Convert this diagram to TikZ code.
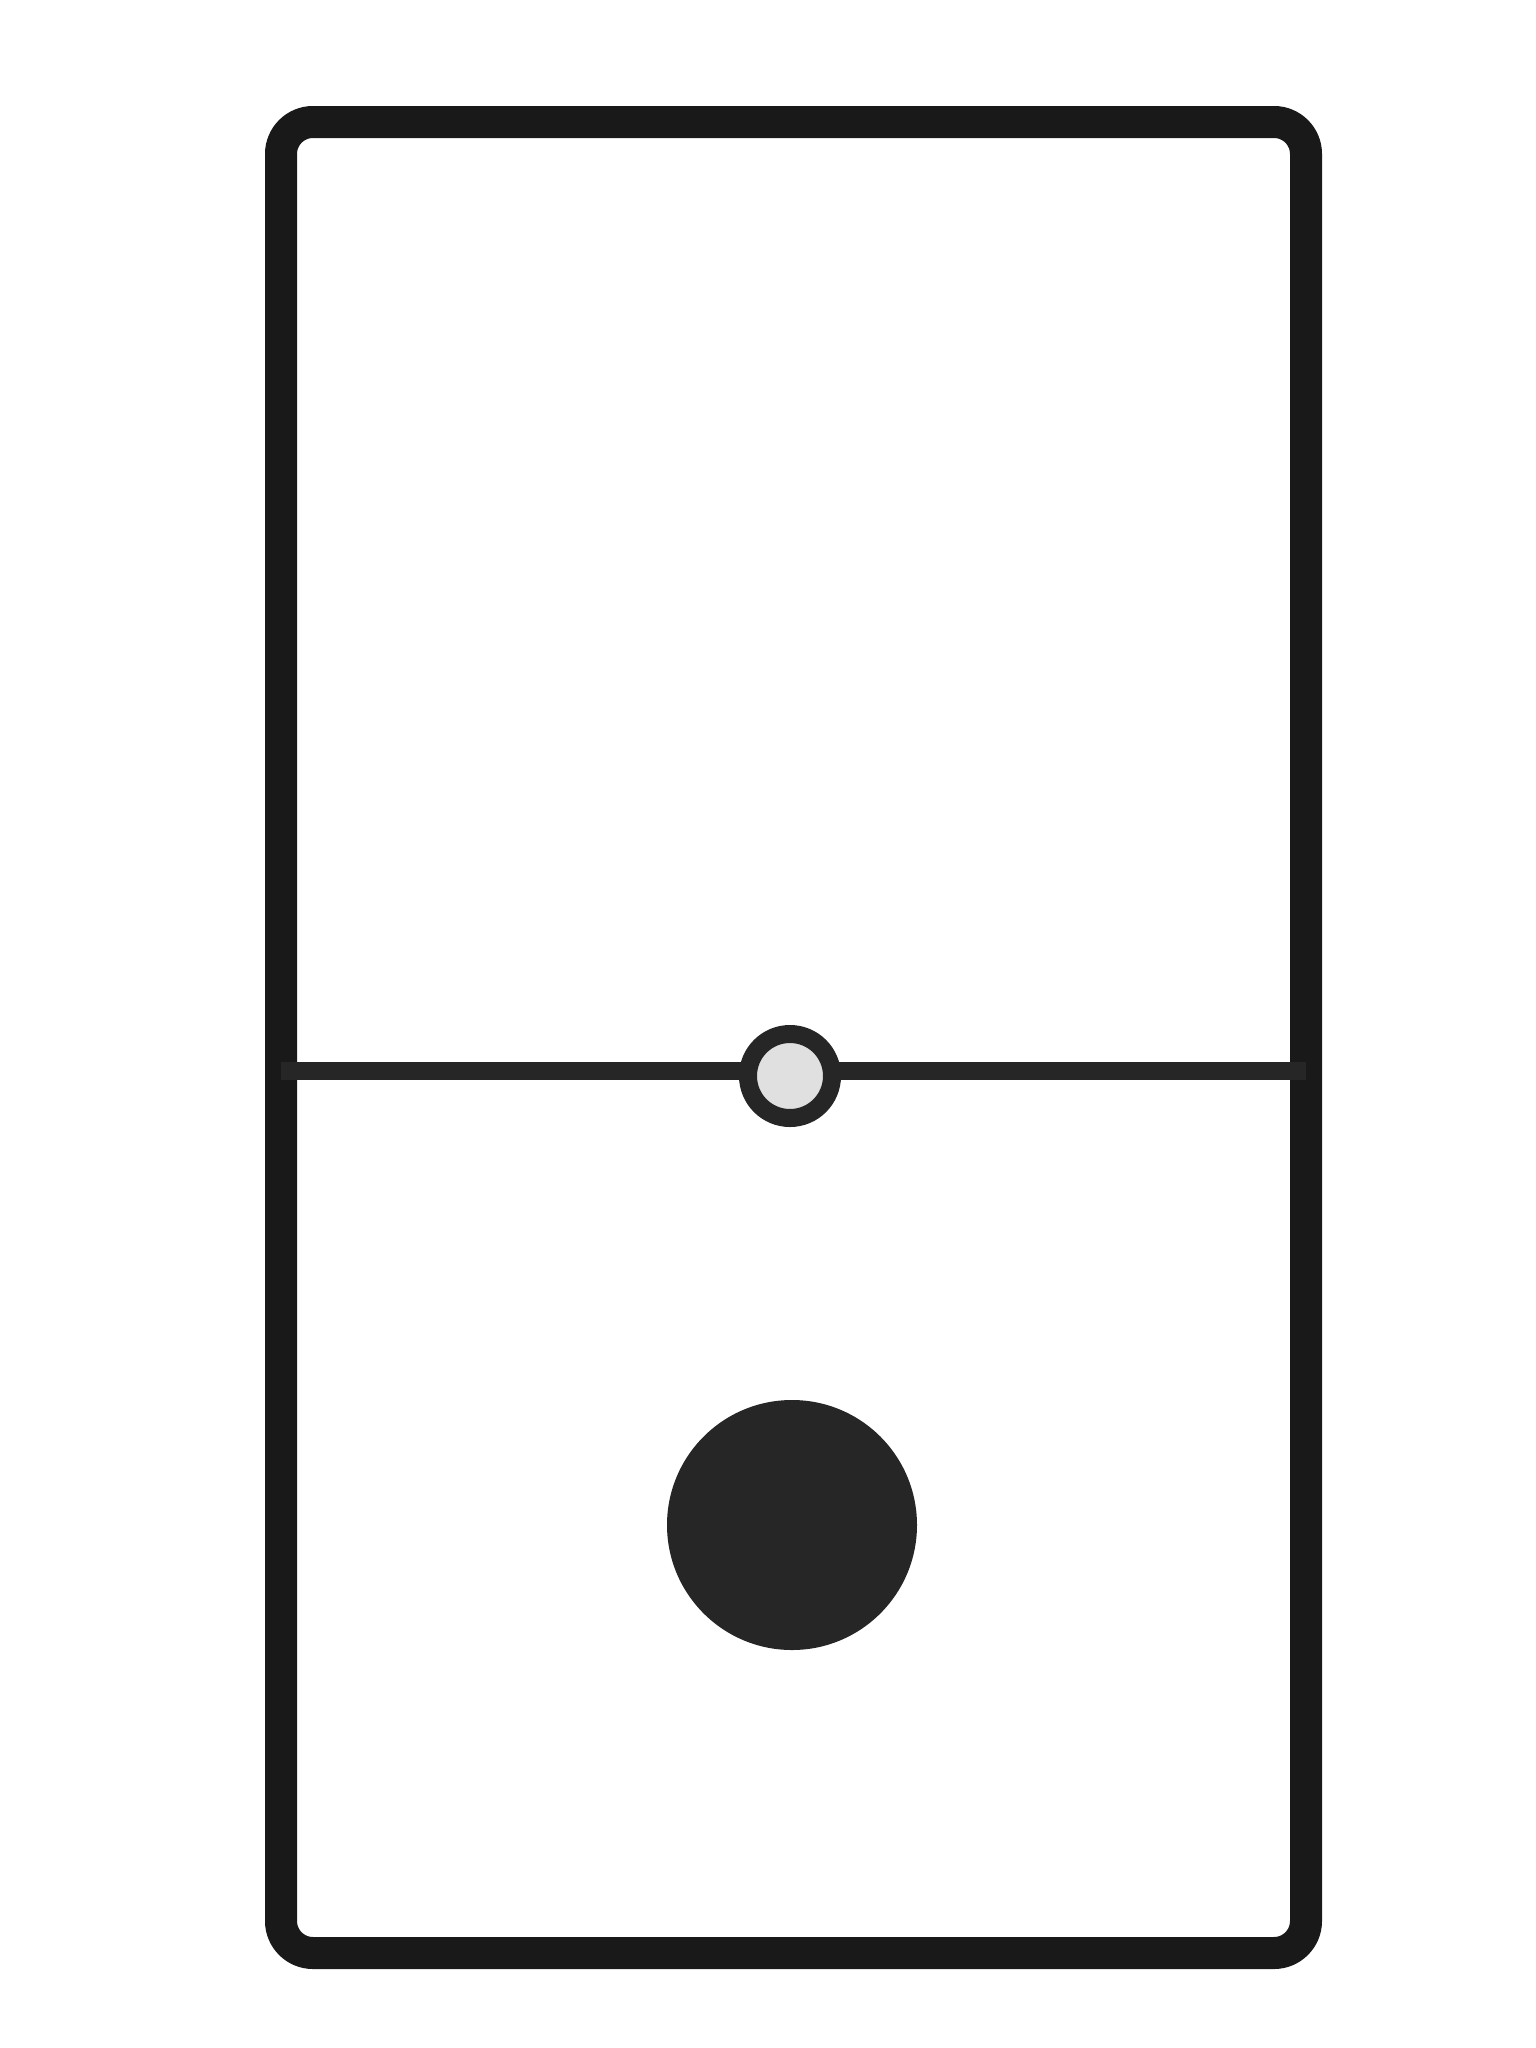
\documentclass[tikz,border=0pt]{standalone}
\begin{document}
\begin{tikzpicture}[x=1pt,y=-1pt,
  edge/.style={draw=black!90,line width=32pt,rounded corners=32pt},
  topedge/.style={draw=black!90,line width=20pt},
  divider/.style={draw=black!85,line width=18pt},
  spinner/.style={circle,draw=black!85,line width=18pt,fill=black!12,minimum size=84pt,inner sep=0pt},
  pip/.style={circle,fill=black!85,minimum size=250pt,inner sep=0pt}]
\useasboundingbox (0,0) rectangle (1536,2048);
\fill[white] (0,0) rectangle (1536,2048);
\draw[edge] (281,122) rectangle (1306,1953);
\coordinate (tl) at (300,128);
\coordinate (tr) at (1290,128);
\draw[topedge] (tl) -- (tr);
\coordinate (dl) at (281,1071);
\coordinate (dr) at (1306,1071);
\draw[divider] (dl) -- (dr);
\node[spinner] (sp) at (790,1076) {};
\node[pip] (p1) at (792,1525) {};
\end{tikzpicture}
\end{document}
